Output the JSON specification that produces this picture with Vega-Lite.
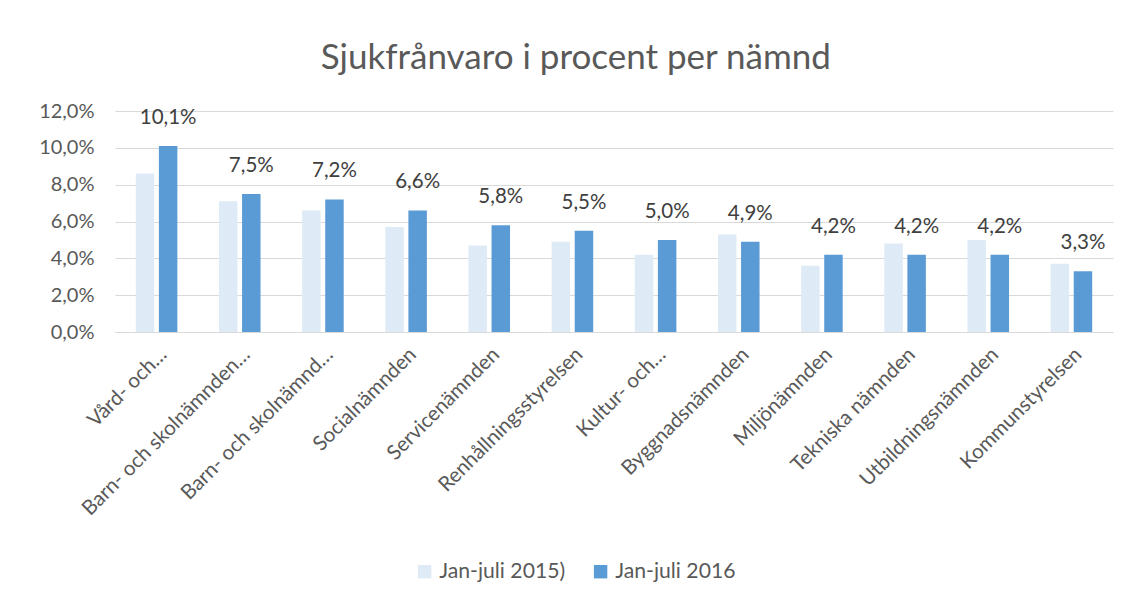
{
  "$schema": "https://vega.github.io/schema/vega-lite/v6.json",
  "width": 998,
  "height": 221,
  "padding": {"left": 38, "top": 41, "right": 10, "bottom": 10},
  "background": "white",
  "title": {
    "text": "Sjukfrånvaro i procent per nämnd",
    "fontSize": 35,
    "font": "Lato",
    "fontWeight": "normal",
    "color": "#595959",
    "anchor": "middle",
    "frame": "bounds",
    "offset": 25
  },
  "config": {
    "locale": {"number": {"decimal": ",", "thousands": "\u00a0", "grouping": [3], "currency": ["", " kr"]}},
    "view": {"stroke": null},
    "font": "Lato"
  },
  "data": {
    "values": [
      {"namnd": "Vård- och…", "period": "Jan-juli 2015)", "value": 0.086},
      {"namnd": "Vård- och…", "period": "Jan-juli 2016", "value": 0.101},
      {"namnd": "Barn- och skolnämnden…", "period": "Jan-juli 2015)", "value": 0.071},
      {"namnd": "Barn- och skolnämnden…", "period": "Jan-juli 2016", "value": 0.075},
      {"namnd": "Barn- och skolnämnd…", "period": "Jan-juli 2015)", "value": 0.066},
      {"namnd": "Barn- och skolnämnd…", "period": "Jan-juli 2016", "value": 0.072},
      {"namnd": "Socialnämnden", "period": "Jan-juli 2015)", "value": 0.057},
      {"namnd": "Socialnämnden", "period": "Jan-juli 2016", "value": 0.066},
      {"namnd": "Servicenämnden", "period": "Jan-juli 2015)", "value": 0.047},
      {"namnd": "Servicenämnden", "period": "Jan-juli 2016", "value": 0.058},
      {"namnd": "Renhållningsstyrelsen", "period": "Jan-juli 2015)", "value": 0.049},
      {"namnd": "Renhållningsstyrelsen", "period": "Jan-juli 2016", "value": 0.055},
      {"namnd": "Kultur- och…", "period": "Jan-juli 2015)", "value": 0.042},
      {"namnd": "Kultur- och…", "period": "Jan-juli 2016", "value": 0.050},
      {"namnd": "Byggnadsnämnden", "period": "Jan-juli 2015)", "value": 0.053},
      {"namnd": "Byggnadsnämnden", "period": "Jan-juli 2016", "value": 0.049},
      {"namnd": "Miljönämnden", "period": "Jan-juli 2015)", "value": 0.036},
      {"namnd": "Miljönämnden", "period": "Jan-juli 2016", "value": 0.042},
      {"namnd": "Tekniska nämnden", "period": "Jan-juli 2015)", "value": 0.048},
      {"namnd": "Tekniska nämnden", "period": "Jan-juli 2016", "value": 0.042},
      {"namnd": "Utbildningsnämnden", "period": "Jan-juli 2015)", "value": 0.050},
      {"namnd": "Utbildningsnämnden", "period": "Jan-juli 2016", "value": 0.042},
      {"namnd": "Kommunstyrelsen", "period": "Jan-juli 2015)", "value": 0.037},
      {"namnd": "Kommunstyrelsen", "period": "Jan-juli 2016", "value": 0.033}
    ]
  },
  "encoding": {
    "x": {
      "field": "namnd",
      "type": "nominal",
      "sort": null,
      "scale": {"paddingInner": 0.5, "paddingOuter": 0.25},
      "axis": {
        "title": null,
        "labelAngle": -45,
        "labelFontSize": 20.5,
        "labelColor": "#595959",
        "labelPadding": 12,
        "ticks": false,
        "domainColor": "#D9D9D9",
        "labelLimit": 300
      }
    },
    "xOffset": {
      "field": "period",
      "type": "nominal",
      "scale": {"domain": ["Jan-juli 2015)", "Jan-juli 2016"], "paddingInner": 0.2}
    },
    "y": {
      "field": "value",
      "type": "quantitative",
      "scale": {"domain": [0, 0.12]},
      "axis": {
        "title": null,
        "format": ".1%",
        "values": [0, 0.02, 0.04, 0.06, 0.08, 0.1, 0.12],
        "labelFontSize": 20,
        "labelColor": "#595959",
        "labelPadding": 21,
        "ticks": false,
        "domain": false,
        "gridColor": "#D9D9D9"
      }
    }
  },
  "layer": [
    {
      "mark": {"type": "bar"},
      "encoding": {
        "color": {
          "field": "period",
          "type": "nominal",
          "scale": {"domain": ["Jan-juli 2015)", "Jan-juli 2016"], "range": ["#DEEBF7", "#5B9BD5"]},
          "legend": {
            "title": null,
            "orient": "none",
            "legendX": 299,
            "legendY": 450,
            "direction": "horizontal",
            "symbolType": "square",
            "symbolSize": 180,
            "symbolOffset": 0,
            "labelOffset": 4,
            "labelFontSize": 21.2,
            "labelColor": "#595959",
            "columnPadding": 24
          }
        }
      }
    },
    {
      "transform": [{"filter": "datum.period === 'Jan-juli 2016'"}],
      "mark": {"type": "text", "baseline": "bottom", "dy": -18, "fontSize": 20.5, "color": "#404040"},
      "encoding": {
        "text": {"field": "value", "type": "quantitative", "format": ".1%"}
      }
    }
  ]
}
